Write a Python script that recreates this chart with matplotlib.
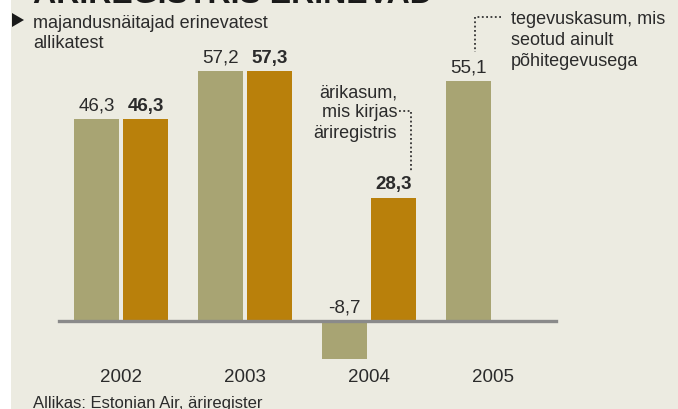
import numpy as np
import matplotlib
matplotlib.use('Agg')
import matplotlib.pyplot as plt
from matplotlib.patches import Polygon, Rectangle

plt.rcParams['font.family'] = ['Liberation Sans', 'DejaVu Sans']

# andmed
aastad = ['2002', '2003', '2004', '2005']
tegevuskasum = [46.3, 57.2, -8.7, 55.1]        # oliiv
arikasum = [46.3, 57.3, 28.3, np.nan]           # oranž

W, H = 678, 410
taust = '#ECEBE1'
oliiv = '#A8A473'
oranz = '#B9800B'
tekst = '#2B2B2B'

fig = plt.figure(figsize=(W / 100, H / 100), dpi=100, facecolor=taust)


def fx(x):
    return x / W


def fy(y):
    return 1 - y / H


# telg katab kogu pildi; piksel -> andmed
ax = fig.add_axes([0, 0, 1, 1])
ax.set_facecolor(taust)
grupp_px = 124.0
x0_px = 121.0
y0_px = 322.0
px_uhik = 4.363
ax.set_xlim(-x0_px / grupp_px, (W - x0_px) / grupp_px)
ax.set_ylim(-(H - y0_px) / px_uhik, y0_px / px_uhik)
ax.axis('off')

x = np.arange(len(aastad))
laius = 45 / grupp_px
nihe = 49 / 2 / grupp_px

b1 = ax.bar(x - nihe, tegevuskasum, width=laius, color=oliiv, zorder=2)
b2 = ax.bar(x + nihe, arikasum, width=laius, color=oranz, zorder=2)

# nulljoon
ax.axhline(0, xmin=59 / W, xmax=556 / W, color='#8A8A8A', lw=2.4, zorder=3)


def silt(v):
    return ('%.1f' % v).replace('.', ',')


for xi, v in zip(x - nihe, tegevuskasum):
    ax.annotate(silt(v), (xi, max(v, 0)), xytext=(0, 6.8), textcoords='offset points',
                ha='center', va='baseline', fontsize=13.5, color=tekst)
for xi, v in zip(x + nihe, arikasum):
    if np.isnan(v):
        continue
    ax.annotate(silt(v), (xi, v), xytext=(0, 6.8), textcoords='offset points',
                ha='center', va='baseline', fontsize=13.5, color=tekst, fontweight='bold')

for xi, a in zip(x, aastad):
    ax.text(xi, -(382 - y0_px) / px_uhik, a, ha='center', va='baseline',
            fontsize=13.5, color=tekst)

# vasak valge riba
fig.patches.append(Rectangle((0, 0), fx(11), 1, transform=fig.transFigure,
                             facecolor='white', edgecolor='none', zorder=5))

# pealkiri (üleval ära lõigatud)
fig.text(fx(33), fy(3), 'ÄRIREGISTRIS ERINEVAD', fontsize=23, fontweight='bold',
         color='#1A1A1A', va='baseline', ha='left')

# alapealkiri
fig.patches.append(Polygon([(fx(12), fy(14)), (fx(12), fy(28)), (fx(24), fy(21))],
                           closed=True, transform=fig.transFigure,
                           facecolor='#1A1A1A', edgecolor='none', zorder=6))
fig.text(fx(33), fy(28), 'majandusnäitajad erinevatest', fontsize=13,
         color=tekst, va='baseline')
fig.text(fx(33), fy(48), 'allikatest', fontsize=13, color=tekst, va='baseline')

# selgitused
for i, rida in enumerate(['ärikasum,', 'mis kirjas', 'äriregistris']):
    fig.text(fx(397), fy([97, 117, 138][i]), rida, fontsize=13, color=tekst,
             ha='right', va='baseline')
for i, rida in enumerate(['tegevuskasum, mis', 'seotud ainult', 'põhitegevusega']):
    fig.text(fx(511), fy([24, 45, 66][i]), rida, fontsize=13, color=tekst,
             ha='left', va='baseline')

punkt = dict(color='#333333', lw=1.3, ls=(0, (1, 1.4)), transform=fig.transFigure)
fig.add_artist(plt.Line2D([fx(399), fx(411), fx(411)], [fy(112), fy(112), fy(172)], **punkt))
fig.add_artist(plt.Line2D([fx(501), fx(475), fx(475)], [fy(18), fy(18), fy(53)], **punkt))

fig.text(fx(33), fy(408), 'Allikas: Estonian Air, äriregister', fontsize=12,
         color=tekst, va='baseline')

fig.savefig('out.png', dpi=100, facecolor=taust)
